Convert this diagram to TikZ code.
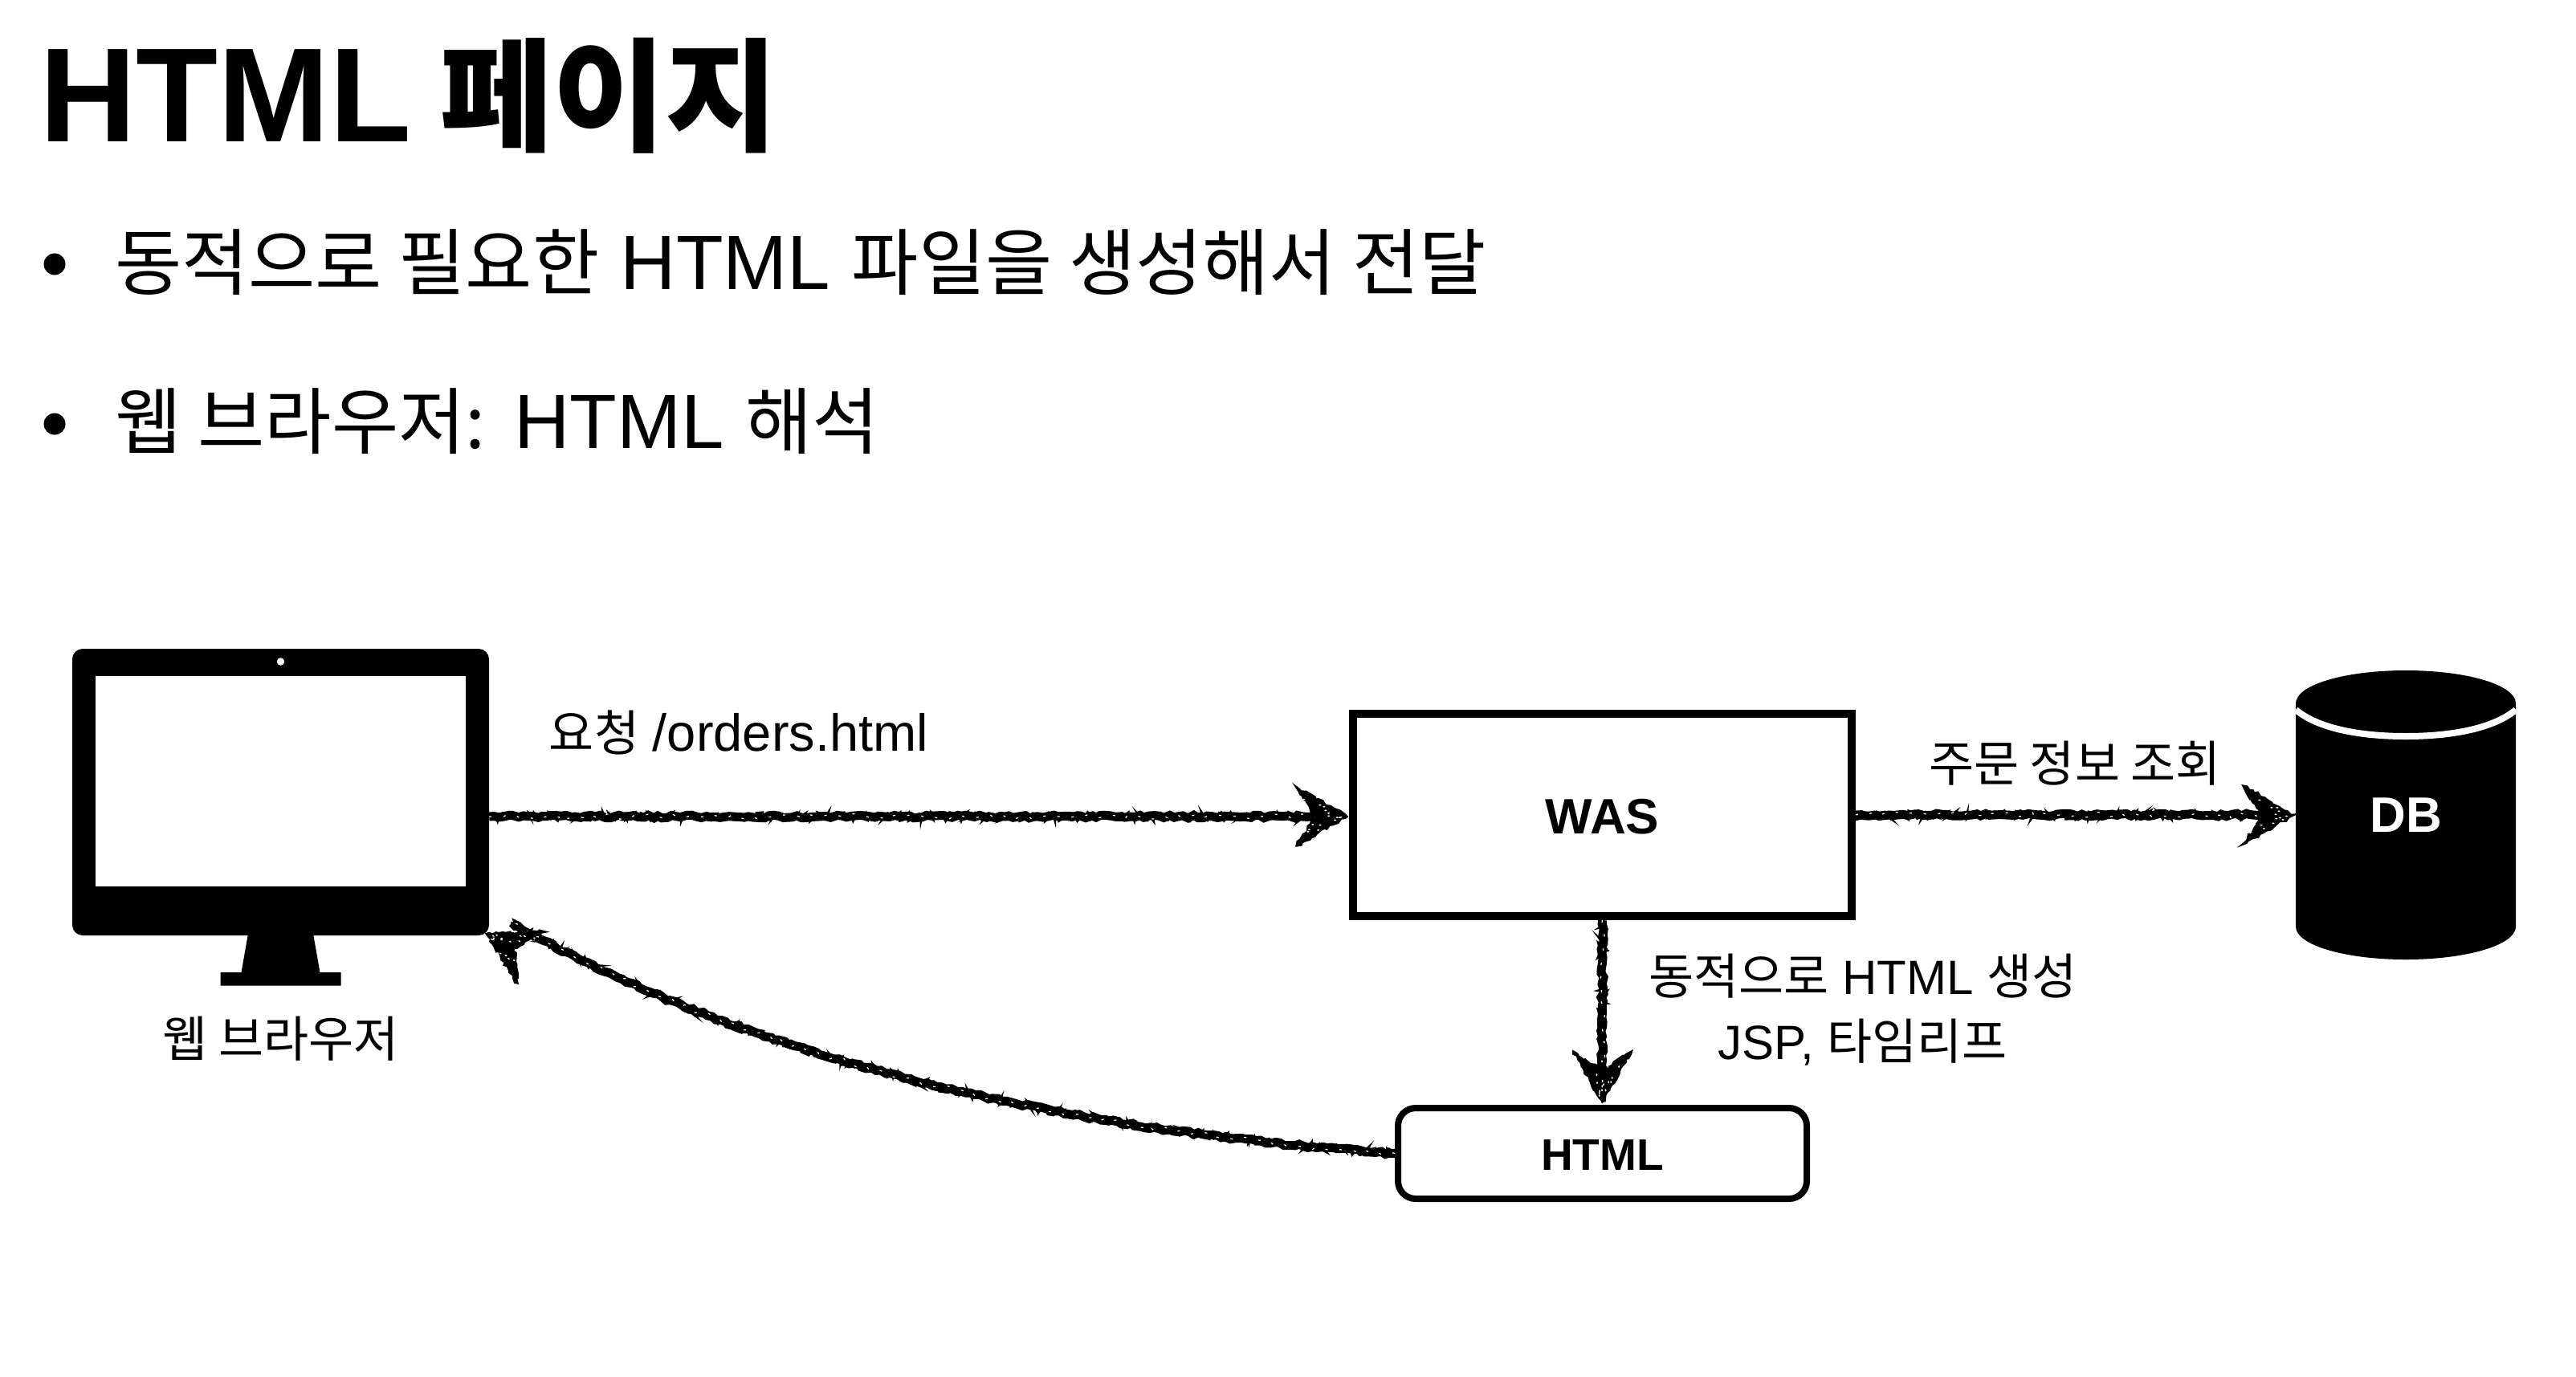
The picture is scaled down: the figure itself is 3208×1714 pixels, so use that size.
\documentclass[tikz,border=0pt]{standalone}
\usepackage{fontspec}
\setmainfont{Liberation Sans}
\newfontfamily\kr{Noto Sans CJK KR}
\newcommand{\krbig}{\kr\fontsize{90.5}{120}\selectfont}
\newcommand{\krtitle}{\kr\fontsize{153}{190}\selectfont}
\newcommand{\krlbl}{\kr\fontsize{61}{72}\selectfont}
\usetikzlibrary{decorations.pathmorphing,calc}
\tikzset{
  chalk/.style={draw=black,line width=11pt,decorate,decoration={random steps,segment length=6pt,amplitude=1.8pt}},
  chalkfine/.style={draw=black,line width=3pt,decorate,decoration={random steps,segment length=3pt,amplitude=5.5pt}},
  chalkspeck/.style={draw=white,line width=1.2pt,dash pattern=on 3pt off 15pt,decorate,decoration={random steps,segment length=7pt,amplitude=3.5pt}},
  headstroke/.style={fill=black,draw=black,line width=3pt,decorate,decoration={random steps,segment length=4pt,amplitude=2pt}},
  lbl/.style={font=\fontsize{60}{72}\selectfont,inner sep=0pt},
  boldlbl/.style={font=\fontsize{62}{72}\selectfont\bfseries,inner sep=0pt},
  bigtxt/.style={font=\fontsize{96}{120}\selectfont,anchor=base west,inner sep=0pt},
  dot/.style={circle,fill=black,minimum size=27pt,inner sep=0pt},
}
\newcommand{\chalkhead}[2]{%
  \begin{scope}[shift={(#1)},rotate=#2]
    \fill[headstroke] (0,0) -- (-62,-36) -- (-38,0) -- (-62,36) -- cycle;
    \foreach \i in {1,...,16}{
      \pgfmathsetmacro{\u}{0.12+0.85*rnd}
      \pgfmathsetmacro{\v}{2*rnd-1}
      \fill[white] ({-58*\u},{\v*30*\u}) ellipse[x radius=1.7pt,y radius=1pt];
    }
  \end{scope}}
\newcommand{\chalkline}[1]{%
  \path[chalk] #1;
  \path[chalkfine] #1;
  \path[chalkspeck] #1;}
\begin{document}
\begin{tikzpicture}[x=1pt,y=-1pt]
\pgfmathsetseed{7}
\useasboundingbox (0,0) rectangle (3208,1714);
\fill[white] (0,0) rectangle (3208,1714);
% title and bullets
\node[anchor=base west,inner sep=0pt,font=\fontsize{167}{190}\selectfont\bfseries] (title) at (49,176) {HTML\hspace{-12pt} {\krtitle 페이지}};
\node[dot] (b1) at (68,329) {};
\node[bigtxt] (t1) at (143,360) {{\krbig 동적으로 필요한} HTML {\krbig 파일을 생성해서 전달}};
\node[dot] (b2) at (68,528) {};
\node[bigtxt] (t2) at (143,558) {{\krbig 웹 브라우저:} HTML {\krbig 해석}};
% monitor
\node[rectangle,rounded corners=13pt,fill=black,minimum width=519pt,minimum height=357pt,inner sep=0pt] (browser) at (349.5,986.5) {};
\node[rectangle,fill=white,minimum width=461pt,minimum height=262pt,inner sep=0pt] (screen) at (349.5,973) {};
\node[circle,fill=white,minimum size=9.5pt,inner sep=0pt] (camera) at (349.5,824) {};
\fill[black] (309.5,1160) -- (389.5,1160) -- (398.5,1211) -- (424.5,1211) -- (424.5,1227.5) -- (274.5,1227.5) -- (274.5,1211) -- (300.5,1211) -- cycle;
\node[lbl] (browserlabel) at (349.5,1294) {\krlbl 웹 브라우저};
% WAS
\node[rectangle,draw=black,line width=10pt,fill=white,minimum width=621pt,minimum height=252pt,inner sep=0pt] (was) at (1995.5,1015) {};
\node[boldlbl] (waslabel) at (1995.5,1017) {WAS};
% DB
\node[rectangle,minimum width=274pt,minimum height=360pt,inner sep=0pt] (db) at (2996,1015) {};
\fill[black] (2859,876) .. controls (2859,853) and (2920,835) .. (2996,835) .. controls (3072,835) and (3133,853) .. (3133,876) -- (3133,1154) .. controls (3133,1177) and (3072,1195) .. (2996,1195) .. controls (2920,1195) and (2859,1177) .. (2859,1154) -- cycle;
\draw[white,line width=8pt] (2859,884) .. controls (2885,906) and (2935,917) .. (2996,917) .. controls (3057,917) and (3107,906) .. (3133,884);
\node[boldlbl,text=white] (dblabel) at (db.center) {DB};
% HTML
\node[rectangle,rounded corners=22pt,draw=black,line width=8pt,fill=white,minimum width=509pt,minimum height=113pt,inner sep=0pt] (html) at (1995.5,1436.5) {};
\node[inner sep=0pt,font=\fontsize{55}{66}\selectfont\bfseries] (htmllabel) at (1995.5,1439) {HTML};
% labels
\node[lbl] (l1) at (920,912) {{\krlbl 요청} {\fontsize{65}{72}\selectfont /orders.html}};
\node[lbl] (l2) at (2584,951) {\krlbl 주문 정보 조회};
\node[lbl] (l3) at (2320,1216) {{\krlbl 동적으로} HTML {\krlbl 생성}};
\node[lbl] (l4) at (2320,1298) {JSP, {\krlbl 타임리프}};
% connectors
\chalkline{([yshift=-2pt]browser.east |- was.west) -- ([shift={(-30pt,-2pt)}]was.west)}
\chalkhead{$(was.west)+(-3,2)$}{0}
\chalkline{(was.east) -- ([xshift=-24pt]db.west)}
\chalkhead{$(db.west)+(-3,0)$}{0}
\chalkline{(was.south) -- ([yshift=30pt]html.north)}
\chalkhead{$(html.north)+(0,-4)$}{-90}
\chalkline{(html.west) .. controls (1350,1410) and (950,1330) .. ([shift={(30pt,15pt)}]browser.south east)}
\chalkhead{$(browser.south east)+(-3,-2)$}{152}
\end{tikzpicture}
\end{document}
